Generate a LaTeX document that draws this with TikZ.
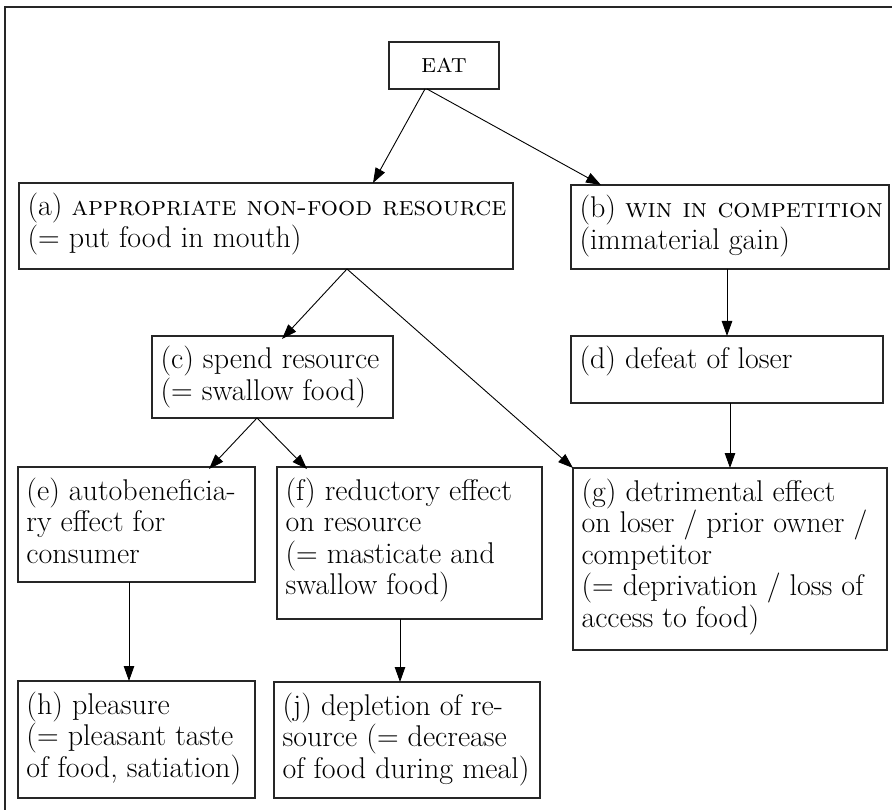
\documentclass[tikz,border=0pt]{standalone}
\usetikzlibrary{arrows.meta}
\newcommand\bxt[3]{\begin{minipage}[c][#2pt][t]{\dimexpr#1pt-17pt\relax}\fontsize{30}{31.6}\selectfont\raggedright\noindent\rule{0pt}{33pt}#3\end{minipage}}
\newcommand\scx[1]{{\fontsize{27}{31.6}\selectfont\textsc{#1}}}
\begin{document}
\begin{tikzpicture}[x=1pt,y=-1pt,
  boxn/.style={draw=black!85,line width=1.2pt,anchor=north west,inner xsep=8.5pt,inner ysep=0pt,outer sep=0pt},
  conn/.style={draw=black,line width=0.9pt,-{Triangle[length=15pt,width=10.5pt]}}]
\useasboundingbox (0,0) rectangle (892,810);
\draw[line width=1.3pt,black!85] (5,810) -- (5,7) -- (892,7);
\node[draw=black!85,line width=1.2pt,anchor=north west,minimum width=110pt,minimum height=47pt,inner sep=0pt,outer sep=0pt] (eat) at (389,42) {\scx{eat}};
\node[boxn] (a) at (19,183) {\bxt{494}{86}{\mbox{(a) \scx{appropriate non-food resource}}\\\mbox{(= put food in mouth)}}};
\node[boxn] (b) at (571,185) {\bxt{318}{84}{\mbox{(b) \scx{win in competition}}\\\mbox{(immaterial gain)}}};
\node[boxn] (c) at (152,336) {\bxt{241}{82}{\mbox{(c) spend resource}\\\mbox{(= swallow food)}}};
\node[boxn] (d) at (571,336) {\bxt{312}{67}{\mbox{(d) defeat of loser}}};
\node[boxn] (e) at (18,467) {\bxt{237}{115}{\mbox{(e) autobeneficia-}\\\mbox{ry effect for}\\\mbox{consumer}}};
\node[boxn] (f) at (277,467) {\bxt{265}{152}{\mbox{(f) reductory effect}\\\mbox{on resource}\\\mbox{(= masticate and}\\\mbox{swallow food)}}};
\node[boxn] (g) at (573,468) {\bxt{314}{182}{\mbox{(g) detrimental effect}\\\mbox{on loser / prior owner /}\\\mbox{competitor}\\\mbox{(= deprivation / loss of}\\\mbox{access to food)}}};
\node[boxn] (h) at (18,681) {\bxt{237}{117}{\mbox{(h) pleasure}\\\mbox{(= pleasant taste}\\\mbox{of food, satiation)}}};
\node[boxn] (j) at (274,682) {\bxt{266}{116}{\mbox{(j) depletion of re-}\\\mbox{source (= decrease}\\\mbox{of food during meal)}}};
\draw[conn] ([xshift=-19pt]eat.south) -- ([xshift=107pt]a.north);
\draw[conn] ([xshift=-17pt]eat.south) -- ([xshift=30pt]b.north west);
\draw[conn] ([xshift=81pt]a.south) -- ([xshift=9.5pt,yshift=-3pt]c.north);
\draw[conn] ([xshift=81pt]a.south) -- (g.north west);
\draw[conn] (d.north |- b.south) -- (d.north);
\draw[conn] ([xshift=-15.5pt]c.south) -- ([xshift=72.5pt,yshift=-2pt]e.north);
\draw[conn] ([xshift=-15.5pt]c.south) -- ([xshift=30pt,yshift=-2pt]f.north west);
\draw[conn] (g.north |- d.south) -- (g.north);
\draw[conn] ([xshift=-7.5pt]e.south) -- ([xshift=-7.5pt]h.north);
\draw[conn] ([xshift=-9.5pt]f.south) -- ([xshift=-7pt]j.north);
\end{tikzpicture}
\end{document}
